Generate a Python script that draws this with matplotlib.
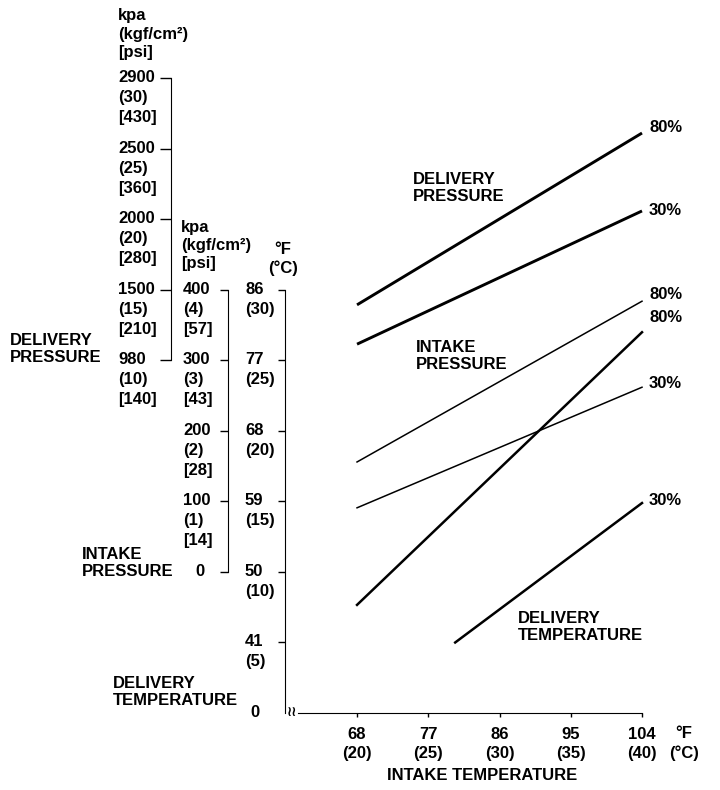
import numpy as np
import matplotlib.pyplot as plt

plt.rcParams['font.family'] = ['Liberation Sans', 'DejaVu Sans']
plt.rcParams['font.weight'] = 'bold'
plt.rcParams['font.size'] = 12

# intake temperature (deg F) at the ends of each line
temp_f = [68, 104]
dt30_temp_f = [80.4, 104]

# delivery pressure, kPa
dp_80 = [1390, 2590]
dp_30 = [1100, 2060]
# intake pressure, kPa
ip_80 = [156, 384]
ip_30 = [91, 262]
# delivery temperature, deg F
dt_80 = [45.8, 80.6]
dt_30 = [41.0, 58.8]

x_ticks = [68, 77, 86, 95, 104]
x_labels = ["68\n(20)", "77\n(25)", "86\n(30)", "95\n(35)", "104\n(40)"]

dt_ticks = [32, 41, 50, 59, 68, 77, 86]
dt_labels = ["0", "41\n(5)", "50\n(10)", "59\n(15)", "68\n(20)", "77\n(25)", "86\n(30)"]

ip_ticks = [0, 100, 200, 300, 400]
ip_labels = ["0", "100\n(1)\n[14]", "200\n(2)\n[28]", "300\n(3)\n[43]", "400\n(4)\n[57]"]

dp_ticks = [980, 1500, 2000, 2500, 2900]
dp_labels = ["980\n(10)\n[140]", "1500\n(15)\n[210]", "2000\n(20)\n[280]",
             "2500\n(25)\n[360]", "2900\n(30)\n[430]"]

W, H = 720, 790
fig = plt.figure(figsize=(7.2, 7.9), dpi=100)


def fx(px):
    return px / W


def fy(py):
    return 1 - py / H


# main axes: intake temp (x) vs delivery temp (y)
ax = fig.add_axes([fx(285), fy(713), fx(680) - fx(285), fy(40) - fy(713)])
ax.set_xlim(58.9, 108.8)
ax.set_ylim(32, 117.9)
ax.patch.set_visible(False)
for s in ['top', 'right']:
    ax.spines[s].set_visible(False)
ax.spines['left'].set_bounds(32, 86)
ax.spines['bottom'].set_bounds(60.5, 104)
ax.set_xticks(x_ticks)
ax.set_xticklabels([])
ax.set_yticks(dt_ticks[1:])
ax.set_yticklabels([])
ax.tick_params(axis='x', direction='out', length=3, width=1)
ax.tick_params(axis='y', direction='out', length=5, width=1)

# intake pressure axis (linear, 0 kPa at 50F, 400 kPa at 86F)
ip = ax.twinx()
ip.set_ylim((32 - 50) * 400 / 36, (117.9 - 50) * 400 / 36)
for s in ['top', 'right', 'bottom']:
    ip.spines[s].set_visible(False)
ip.spines['left'].set_visible(True)
ip.spines['left'].set_position(('axes', (228 - 285) / 395))
ip.spines['left'].set_bounds(0, 400)
ip.yaxis.tick_left()
ip.set_yticks(ip_ticks)
ip.set_yticklabels([])
ip.tick_params(axis='y', direction='out', length=6, width=1)

# delivery pressure axis (evenly spaced, uneven values)
dp_vals = [980 - 520 * 8] + dp_ticks + [2900 + 400 * 8]
dp_rows = [-8, 0, 1, 2, 3, 4, 12]


def dp_fwd(v):
    return np.interp(v, dp_vals, dp_rows)


def dp_inv(r):
    return np.interp(r, dp_rows, dp_vals)


dp = ax.twinx()
dp.set_yscale('function', functions=(dp_fwd, dp_inv))
dp.set_ylim(dp_inv((32 - 77) / 9), dp_inv((117.9 - 77) / 9))
for s in ['top', 'right', 'bottom']:
    dp.spines[s].set_visible(False)
dp.spines['left'].set_visible(True)
dp.spines['left'].set_position(('axes', (171 - 285) / 395))
dp.spines['left'].set_bounds(980, 2900)
dp.yaxis.tick_left()
dp.set_yticks(dp_ticks)
dp.set_yticklabels([])
dp.yaxis.set_minor_locator(plt.NullLocator())
dp.tick_params(axis='y', direction='out', length=8, width=1)

# lines
dp.plot(temp_f, dp_80, color='black', lw=2.1, solid_capstyle='butt')
dp.plot(temp_f, dp_30, color='black', lw=2.1, solid_capstyle='butt')
ip.plot(temp_f, ip_80, color='black', lw=1.1)
ip.plot(temp_f, ip_30, color='black', lw=1.1)
ax.plot(temp_f, dt_80, color='black', lw=1.8)
ax.plot(dt30_temp_f, dt_30, color='black', lw=1.8)

# percent labels at the line ends
ends = [(dp, dp_80[-1], "80%", 6), (dp, dp_30[-1], "30%", 0),
        (ip, ip_80[-1], "80%", 7), (ax, dt_80[-1], "80%", 15),
        (ip, ip_30[-1], "30%", 4), (ax, dt_30[-1], "30%", 3)]
for a, yv, txt, dy in ends:
    a.annotate(txt, xy=(temp_f[-1], yv), xytext=(7, dy), textcoords='offset pixels',
               ha='left', va='center')

# tick label blocks (first line sits on the tick)
for t, lab in zip(x_ticks, x_labels):
    ax.annotate(lab, xy=(t, 0), xycoords=('data', 'axes fraction'), xytext=(0, -14),
                textcoords='offset pixels', ha='center', va='top', linespacing=1.35)
for t, lab in zip(dt_ticks, dt_labels):
    xpx = 250 if t == 32 else 245
    ax.annotate(lab, xy=(xpx, t), xycoords=('figure pixels', 'data'), xytext=(0, 8),
                textcoords='offset pixels', ha='left', va='top', linespacing=1.4)
for t, lab in zip(ip_ticks, ip_labels):
    xpx = 195 if t == 0 else 183
    ip.annotate(lab, xy=(xpx, t), xycoords=('figure pixels', 'data'), xytext=(0, 8),
                textcoords='offset pixels', ha='left', va='top', linespacing=1.4)
for t, lab in zip(dp_ticks, dp_labels):
    dp.annotate(lab, xy=(118, t), xycoords=('figure pixels', 'data'), xytext=(0, 8),
                textcoords='offset pixels', ha='left', va='top', linespacing=1.4)

# unit headers
fig.text(fx(118), fy(8), "kpa\n(kgf/cm²)\n[psi]", ha='left', va='top', linespacing=1.3)
fig.text(fx(181), fy(220), "kpa\n(kgf/cm²)\n[psi]", ha='left', va='top', linespacing=1.25)
fig.text(fx(283), fy(242), "°F\n(°C)", ha='center', va='top', linespacing=1.25)
fig.text(fx(684), fy(726), "°F\n(°C)", ha='center', va='top', linespacing=1.35)

# axis break mark at the corner
fig.text(fx(292), fy(712), "≀≀", ha='center', va='center', fontsize=10,
         family='DejaVu Sans')

# axis titles
fig.text(fx(10), fy(349), "DELIVERY\nPRESSURE", ha='left', va='center', linespacing=1.15)
fig.text(fx(82), fy(563), "INTAKE\nPRESSURE", ha='left', va='center', linespacing=1.15)
fig.text(fx(113), fy(692), "DELIVERY\nTEMPERATURE", ha='left', va='center', linespacing=1.15)
fig.text(fx(482), fy(775), "INTAKE TEMPERATURE", ha='center', va='center')

# titles inside the plot
fig.text(fx(413), fy(188), "DELIVERY\nPRESSURE", ha='left', va='center', linespacing=1.15)
fig.text(fx(416), fy(356), "INTAKE\nPRESSURE", ha='left', va='center', linespacing=1.15)
fig.text(fx(518), fy(627), "DELIVERY\nTEMPERATURE", ha='left', va='center', linespacing=1.15)

fig.savefig("out.png", dpi=100)
